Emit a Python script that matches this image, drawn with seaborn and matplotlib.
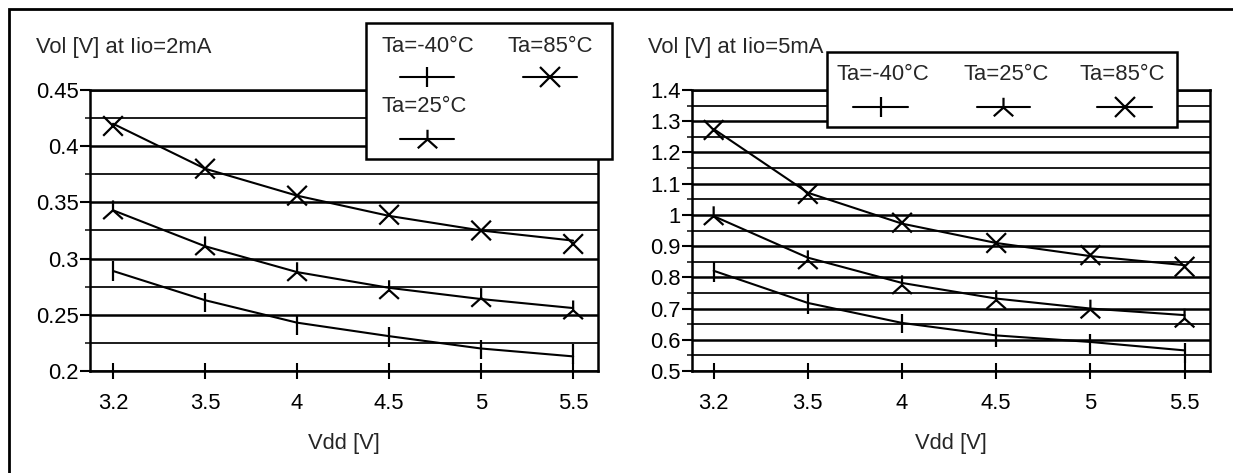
import numpy as np
import pandas as pd
import matplotlib
matplotlib.use("Agg")
import matplotlib.pyplot as plt
from matplotlib.lines import Line2D
from matplotlib.markers import MarkerStyle
from matplotlib.patches import Rectangle
from matplotlib.path import Path
from matplotlib.ticker import MultipleLocator, FuncFormatter
import seaborn as sns

# --- data ---
vdd = ["3.2", "3.5", "4", "4.5", "5", "5.5"]
temps = ["Ta=-40°C", "Ta=25°C", "Ta=85°C"]

# Iio = 2mA : measured points and fitted trend
vol2_m40 = [0.289, 0.261, 0.241, 0.230, 0.219, 0.215]
vol2_25 = [0.343, 0.311, 0.288, 0.272, 0.265, 0.254]
vol2_85 = [0.418, 0.380, 0.356, 0.339, 0.325, 0.313]
trend2_m40 = [0.289, 0.263, 0.243, 0.231, 0.220, 0.213]
trend2_25 = [0.343, 0.311, 0.288, 0.274, 0.264, 0.256]
trend2_85 = [0.420, 0.380, 0.356, 0.338, 0.325, 0.316]

# Iio = 5mA
vol5_m40 = [0.817, 0.714, 0.652, 0.607, 0.586, 0.558]
vol5_25 = [0.996, 0.855, 0.775, 0.727, 0.697, 0.668]
vol5_85 = [1.272, 1.067, 0.975, 0.910, 0.871, 0.834]
trend5_m40 = [0.821, 0.718, 0.654, 0.614, 0.593, 0.566]
trend5_25 = [0.996, 0.863, 0.782, 0.732, 0.700, 0.679]
trend5_85 = [1.275, 1.071, 0.972, 0.910, 0.868, 0.839]

# "tri" marker like the one in the reference: short spoke up, two spokes down at ~45 deg
tri = Path([(0, 0), (0, 1), (0, 0), (-1, -0.9), (0, 0), (1, -0.9)],
           [Path.MOVETO, Path.LINETO, Path.MOVETO, Path.LINETO, Path.MOVETO, Path.LINETO])
markers = {
    "Ta=-40°C": MarkerStyle("|"),
    "Ta=25°C": MarkerStyle(tri, fillstyle="none"),
    "Ta=85°C": MarkerStyle("x"),
}


def make_df(points, trends):
    rows = []
    for t, p, tr in zip(temps, points, trends):
        for x, v, w in zip(vdd, p, tr):
            rows.append({"Vdd": x, "Ta": t, "Vol": v, "trend": w})
    return pd.DataFrame(rows)


df2 = make_df([vol2_m40, vol2_25, vol2_85], [trend2_m40, trend2_25, trend2_85])
df5 = make_df([vol5_m40, vol5_25, vol5_85], [trend5_m40, trend5_25, trend5_85])

sns.set_style("ticks")
plt.rcParams["font.family"] = ["Liberation Sans", "DejaVu Sans"]
FS = 15.8

W, H = 1233, 473
fig = plt.figure(figsize=(W / 100, H / 100), dpi=100)
ax1 = fig.add_axes([90 / W, 1 - 371 / H, (598 - 90) / W, (371 - 90) / H])
ax2 = fig.add_axes([692 / W, 1 - 371 / H, (1210 - 692) / W, (371 - 90) / H])

black = {t: "black" for t in temps}


def draw_panel(ax, df, ylim, major, xlim):
    sns.lineplot(data=df, x="Vdd", y="trend", hue="Ta", palette=black,
                 sort=False, linewidth=1.5, legend=False, ax=ax, zorder=3)
    sns.scatterplot(data=df, x="Vdd", y="Vol", style="Ta", markers=markers,
                    color="black", s=200, linewidth=1.6, legend=False,
                    ax=ax, zorder=4)
    ax.set_xlim(*xlim)
    ax.set_ylim(*ylim)
    ax.yaxis.set_major_locator(MultipleLocator(major))
    ax.yaxis.set_minor_locator(MultipleLocator(major / 2))
    ax.yaxis.set_major_formatter(FuncFormatter(lambda v, p: f"{v:g}"))
    ax.grid(axis="y", which="major", color="black", linewidth=1.8)
    ax.grid(axis="y", which="minor", color="black", linewidth=1.25)
    ax.set_axisbelow(True)
    for s in ax.spines.values():
        s.set_visible(True)
        s.set_linewidth(1.8)
        s.set_color("black")
    ax.tick_params(axis="y", which="major", direction="out", length=7.5,
                   width=1.5, pad=0.5, labelsize=FS, colors="black")
    ax.tick_params(axis="y", which="minor", direction="out", length=3.8,
                   width=1.25)
    ax.tick_params(axis="x", which="major", direction="inout", length=11,
                   width=1.5, pad=10, labelsize=FS, colors="black")
    ax.set_ylabel("")
    ax.set_xlabel("Vdd [V]", fontsize=FS, labelpad=14)


draw_panel(ax1, df2, (0.2, 0.45), 0.05, (-0.25, 5.27))
draw_panel(ax2, df5, (0.5, 1.4), 0.1, (-0.23, 5.27))

fig.text(36 / W, 1 - 48 / H, "Vol [V] at Iio=2mA", fontsize=FS, va="center", ha="left")
fig.text(648 / W, 1 - 48 / H, "Vol [V] at Iio=5mA", fontsize=FS, va="center", ha="left")


def fig_box(x0, y0, x1, y1):
    fig.add_artist(Rectangle((x0 / W, 1 - y1 / H), (x1 - x0) / W, (y1 - y0) / H,
                             transform=fig.transFigure, facecolor="white",
                             edgecolor="black", linewidth=1.8, zorder=10))


def legend_entry(label, tx, ty, lx0, lx1, ly):
    fig.text(tx / W, 1 - ty / H, label, fontsize=FS, va="center", ha="left", zorder=11)
    fig.add_artist(Line2D([lx0 / W, lx1 / W], [1 - ly / H, 1 - ly / H],
                          transform=fig.transFigure, color="black", linewidth=1.5,
                          zorder=11))
    fig.add_artist(Line2D([(lx0 + lx1) / 2 / W], [1 - ly / H], transform=fig.transFigure,
                          color="black", marker=markers[label], markersize=14,
                          markeredgewidth=1.6, linestyle="none", zorder=12))


# legend of the left panel (two columns, text above its sample)
fig_box(366, 23, 612, 159)
legend_entry("Ta=-40°C", 382, 47, 400, 454, 77)
legend_entry("Ta=85°C", 507, 47, 523, 577, 77)
legend_entry("Ta=25°C", 382, 107, 400, 454, 139)

# legend of the right panel (one row)
fig_box(827, 52, 1177, 127)
legend_entry("Ta=-40°C", 837, 75, 853, 908, 107)
legend_entry("Ta=25°C", 963, 75, 977, 1030, 107)
legend_entry("Ta=85°C", 1080, 75, 1097, 1152, 107)

# outer frame (right and bottom edges lie outside the picture)
fig.add_artist(Rectangle((9 / W, -0.1), 1.2, 1.1 - 9 / H, transform=fig.transFigure,
                         fill=False, edgecolor="black", linewidth=2.0, zorder=20))

fig.savefig("out.png", dpi=100)
